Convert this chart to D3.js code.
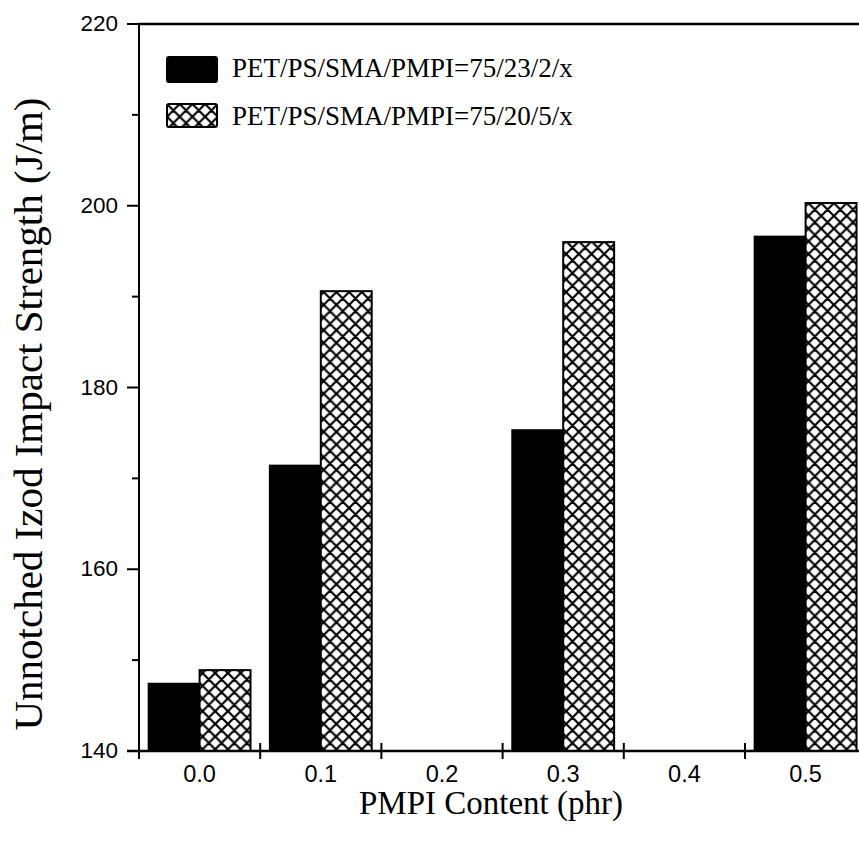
<!DOCTYPE html>
<html>
<head>
<meta charset="utf-8">
<script src="https://cdn.jsdelivr.net/npm/d3@7"></script>
<style>
  html, body { margin: 0; padding: 0; background: #fff; }
  svg { display: block; }
</style>
</head>
<body>
<svg width="859" height="842"></svg>
<script>
// data
const categories = ['0.0', '0.1', '0.2', '0.3', '0.4', '0.5'];
const seriesNames = ['PET/PS/SMA/PMPI=75/23/2/x', 'PET/PS/SMA/PMPI=75/20/5/x'];
const solidValues = [147.4, 171.4, null, 175.3, null, 196.6];
const hatchValues = [148.9, 190.6, null, 196.0, null, 200.3];
const yTicks = [140, 160, 180, 200, 220];
const yMinorTicks = [150, 170, 190, 210];

const svg = d3.select('svg');

// plot area
const plotLeft = 139, plotTop = 24, plotBottom = 751, step = 121.2;

const x = d3.scaleBand()
  .domain(categories)
  .range([plotLeft, plotLeft + step * categories.length]);

const x1 = d3.scaleBand()
  .domain(seriesNames)
  .range([0, x.bandwidth()])
  .paddingOuter(0.19);

const y = d3.scaleLinear().domain([140, 220]).range([plotBottom, plotTop]);

// cross hatch pattern
const defs = svg.append('defs');
const pat = defs.append('pattern')
  .attr('id', 'hatch')
  .attr('patternUnits', 'userSpaceOnUse')
  .attr('width', 12.7)
  .attr('height', 12.7);
pat.append('rect').attr('width', 12.7).attr('height', 12.7).attr('fill', '#fff');
pat.append('path')
  .attr('d', 'M0,0L12.7,12.7M12.7,0L0,12.7M-1,1L1,-1M11.7,13.7L13.7,11.7M-1,11.7L1,13.7M11.7,-1L13.7,1')
  .attr('stroke', '#000')
  .attr('stroke-width', 2.2);

// bars
const rows = categories.map((c, i) => ({ cat: c, vals: [solidValues[i], hatchValues[i]] }));

const groups = svg.selectAll('g.grp')
  .data(rows)
  .enter()
  .append('g')
  .attr('class', 'grp')
  .attr('transform', (d) => `translate(${x(d.cat)},0)`);

groups.selectAll('rect')
  .data((d) => d.vals.map((v, j) => ({ v, name: seriesNames[j], j })).filter((e) => e.v != null))
  .enter()
  .append('rect')
  .attr('x', (d) => x1(d.name))
  .attr('width', x1.bandwidth())
  .attr('y', (d) => y(d.v))
  .attr('height', (d) => plotBottom - y(d.v))
  .attr('fill', (d) => (d.j === 0 ? '#000' : 'url(#hatch)'))
  .attr('stroke', '#000')
  .attr('stroke-width', 2);

// frame: left axis line, top line
svg.append('line')
  .attr('x1', plotLeft).attr('x2', plotLeft).attr('y1', plotTop).attr('y2', plotBottom)
  .attr('stroke', '#000').attr('stroke-width', 2);
svg.append('line')
  .attr('x1', plotLeft).attr('x2', 859).attr('y1', plotTop).attr('y2', plotTop)
  .attr('stroke', '#000').attr('stroke-width', 2.5);

// x axis: ticks at band edges crossing the line
const xAxis = svg.append('g').attr('transform', `translate(0,${plotBottom})`);
xAxis.append('line')
  .attr('x1', plotLeft - 12).attr('x2', 859).attr('y1', 0).attr('y2', 0)
  .attr('stroke', '#000').attr('stroke-width', 2.5);
const edges = categories.map((c) => x(c)).concat([x.range()[1]]);
xAxis.selectAll('line.tk')
  .data(edges)
  .enter()
  .append('line')
  .attr('class', 'tk')
  .attr('x1', (d) => d).attr('x2', (d) => d)
  .attr('y1', -8).attr('y2', 8)
  .attr('stroke', '#000').attr('stroke-width', 2);
xAxis.selectAll('text')
  .data(categories)
  .enter()
  .append('text')
  .attr('x', (d) => x(d) + x.bandwidth() / 2)
  .attr('y', 31)
  .attr('text-anchor', 'middle')
  .attr('font-family', 'Liberation Sans, Arial, sans-serif')
  .attr('font-size', 23.5)
  .text((d) => d);

// y axis ticks, outside on the left
const yAxis = svg.append('g');
yAxis.selectAll('line.major')
  .data(yTicks)
  .enter()
  .append('line')
  .attr('class', 'major')
  .attr('x1', plotLeft - 12).attr('x2', plotLeft)
  .attr('y1', (d) => y(d)).attr('y2', (d) => y(d))
  .attr('stroke', '#000').attr('stroke-width', 2);
yAxis.selectAll('line.minor')
  .data(yMinorTicks)
  .enter()
  .append('line')
  .attr('class', 'minor')
  .attr('x1', plotLeft - 7).attr('x2', plotLeft)
  .attr('y1', (d) => y(d)).attr('y2', (d) => y(d))
  .attr('stroke', '#000').attr('stroke-width', 2);
yAxis.selectAll('text')
  .data(yTicks)
  .enter()
  .append('text')
  .attr('x', plotLeft - 21)
  .attr('y', (d) => y(d) + 7)
  .attr('text-anchor', 'end')
  .attr('font-family', 'Liberation Sans, Arial, sans-serif')
  .attr('font-size', 22.5)
  .text((d) => d);

// axis titles
svg.append('text')
  .attr('transform', 'translate(42,414) rotate(-90)')
  .attr('text-anchor', 'middle')
  .attr('font-family', 'Liberation Serif, Times New Roman, serif')
  .attr('font-size', 41)
  .text('Unnotched Izod Impact Strength (J/m)');

svg.append('text')
  .attr('x', 491)
  .attr('y', 814)
  .attr('text-anchor', 'middle')
  .attr('font-family', 'Liberation Serif, Times New Roman, serif')
  .attr('font-size', 33)
  .text('PMPI Content (phr)');

// legend
const legendItems = svg.append('g').selectAll('g')
  .data(seriesNames)
  .enter()
  .append('g')
  .attr('transform', (d, i) => `translate(167,${i === 0 ? 57 : 104})`);
legendItems.append('rect')
  .attr('width', 50)
  .attr('height', (d, i) => (i === 0 ? 25 : 23))
  .attr('rx', 2)
  .attr('fill', (d, i) => (i === 0 ? '#000' : 'url(#hatch)'))
  .attr('stroke', '#000')
  .attr('stroke-width', 2);
legendItems.append('text')
  .attr('x', 65)
  .attr('y', (d, i) => (i === 0 ? 20 : 21))
  .attr('font-family', 'Liberation Serif, Times New Roman, serif')
  .attr('font-size', 27)
  .text((d) => d);
</script>
</body>
</html>
